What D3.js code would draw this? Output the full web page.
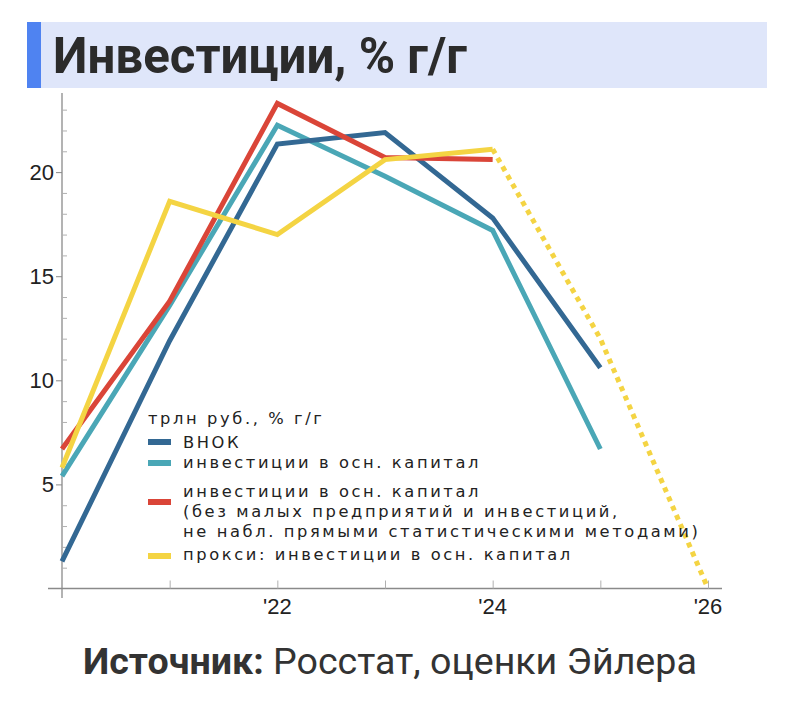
<!DOCTYPE html>
<html>
<head>
<meta charset="utf-8">
<script src="https://cdn.jsdelivr.net/npm/d3@7"></script>
<style>
  body { margin: 0; background: #fff; }
</style>
</head>
<body>
<div id="chart"></div>
<script>
// data
const years = [2020, 2021, 2022, 2023, 2024, 2025];
const vnok = [1.3, 11.9, 21.35, 21.9, 17.8, 10.6];
const invFixed = [5.4, 13.6, 22.25, 19.8, 17.2, 6.7];
const invExcl = [6.7, 13.8, 23.3, 20.7, 20.6];
const proxy = [5.8, 18.6, 17.0, 20.6, 21.1];
const proxyForecastYears = [2024, 2025, 2026];
const proxyForecast = [21.1, 12.0, 0];
const yTickMajor = [5, 10, 15, 20];
const xTickMajor = [2022, 2024, 2026];
const xTickLabels = ["'22", "'24", "'26"];

const legendTitle = "трлн руб., % г/г";
const legendItems = [
  { color: "#336893", lines: ["ВНОК"] },
  { color: "#4aa7b6", lines: ["инвестиции в осн. капитал"] },
  { color: "#da4538", lines: ["инвестиции в осн. капитал", "(без малых предприятий и инвестиций,", "не набл. прямыми статистическими методами)"] },
  { color: "#f4d443", lines: ["прокси: инвестиции в осн. капитал"] }
];

const W = 800, H = 711;
const svg = d3.select("#chart").append("svg")
  .attr("width", W)
  .attr("height", H);

// fit a text element to a target width by scaling its font size
function fitWidth(sel, target) {
  const fs = parseFloat(sel.style("font-size"));
  const w = sel.node().getComputedTextLength();
  const nfs = fs * target / w;
  sel.style("font-size", nfs + "px");
  return nfs;
}

// title band
svg.append("rect").attr("x", 27).attr("y", 22).attr("width", 740).attr("height", 66).attr("fill", "#dfe6fa");
svg.append("rect").attr("x", 27).attr("y", 22).attr("width", 14).attr("height", 66).attr("fill", "#4f83f1");
const title = svg.append("text")
  .attr("x", 53).attr("y", 73)
  .style("font-family", "Roboto, 'Liberation Sans', sans-serif")
  .style("font-weight", "bold")
  .style("font-size", "48px")
  .style("fill", "#2b2b2b")
  .text("Инвестиции, % г/г");
fitWidth(title, 414);

// scales
const x = d3.scaleLinear().domain([2020, 2026]).range([62, 708]);
const y = d3.scaleLinear().domain([0, 23.8]).range([588.5, 93]);

const axisColor = "#8a8a8a";
const tickFont = "'Liberation Sans', Arial, Helvetica, sans-serif";
const g = svg.append("g");

// axis lines
g.append("line").attr("x1", 48).attr("x2", 722).attr("y1", y(0)).attr("y2", y(0))
  .attr("stroke", axisColor).attr("stroke-width", 1.3);
g.append("line").attr("x1", x(2020)).attr("x2", x(2020)).attr("y1", y(23.8)).attr("y2", 598)
  .attr("stroke", axisColor).attr("stroke-width", 1.3);

// y axis: minor ticks inside, major ticks outside with labels
const yMinor = d3.range(1, 24).filter(v => !yTickMajor.includes(v));
const yAxisMinor = d3.axisRight(y).tickValues(yMinor).tickSize(5).tickFormat("");
g.append("g").attr("transform", `translate(${x(2020)},0)`).call(yAxisMinor)
  .call(s => s.select(".domain").remove())
  .call(s => s.selectAll(".tick line").attr("stroke", "#b0b0b0"));
const yAxisMajor = d3.axisLeft(y).tickValues(yTickMajor).tickSize(6).tickPadding(2);
g.append("g").attr("transform", `translate(${x(2020)},0)`).call(yAxisMajor)
  .call(s => s.select(".domain").remove())
  .call(s => s.selectAll(".tick line").attr("stroke", axisColor))
  .call(s => s.selectAll(".tick text")
    .attr("font-family", null).attr("font-size", null)
    .style("font-family", tickFont)
    .style("font-size", "22px").style("fill", "#222"));

// x axis ticks point up into the plot
const xAxis = d3.axisTop(x).tickValues(d3.range(2021, 2027)).tickSize(8).tickFormat("");
g.append("g").attr("transform", `translate(0,${y(0)})`).call(xAxis)
  .call(s => s.select(".domain").remove())
  .call(s => s.selectAll(".tick line").attr("stroke", "#b0b0b0"));
g.selectAll(".xlab").data(xTickMajor).enter().append("text")
  .attr("class", "xlab")
  .attr("x", d => x(d)).attr("y", 614)
  .attr("text-anchor", "middle")
  .style("font-family", tickFont)
  .style("font-size", "22px").style("fill", "#222")
  .text((d, i) => xTickLabels[i]);

// lines
const line = d3.line().x(d => x(d[0])).y(d => y(d[1]));
const series = [
  { vals: invFixed, yrs: years, color: "#4aa7b6" },
  { vals: vnok, yrs: years, color: "#336893" },
  { vals: invExcl, yrs: years, color: "#da4538" },
  { vals: proxy, yrs: years, color: "#f4d443" }
];
series.forEach(s => {
  g.append("path")
    .datum(s.vals.map((v, i) => [s.yrs[i], v]))
    .attr("d", line)
    .attr("fill", "none")
    .attr("stroke", s.color)
    .attr("stroke-width", 5);
});
g.append("path")
  .datum(proxyForecast.map((v, i) => [proxyForecastYears[i], v]))
  .attr("d", line)
  .attr("fill", "none")
  .attr("stroke", "#f4d443")
  .attr("stroke-width", 5)
  .attr("stroke-dasharray", "5,5");

// legend: font sized to keep rows apart, widened a little with letter spacing
const leg = svg.append("g");
const legFont = "'DejaVu Sans', 'Noto Sans', sans-serif";
const legFs = 16.3;
const probeText = "инвестиции в осн. капитал";
const probe = leg.append("text").style("font-family", legFont).style("font-size", legFs + "px")
  .text(probeText);
const legLs = Math.max(0, (298 - probe.node().getComputedTextLength()) / probeText.length);
probe.remove();

function legText(xp, yp, t) {
  leg.append("text")
    .attr("x", xp).attr("y", yp)
    .style("font-family", legFont).style("font-size", legFs + "px")
    .style("letter-spacing", legLs + "px").style("fill", "#222")
    .text(t);
}
legText(148, 424, legendTitle);

const rowBase = [448, 468, 497, 560];
const swatchY = [442, 463, 502, 556];
legendItems.forEach((item, i) => {
  leg.append("rect")
    .attr("x", 148).attr("y", swatchY[i] - 3).attr("width", 23).attr("height", 6)
    .attr("fill", item.color);
  item.lines.forEach((t, j) => legText(183, rowBase[i] + j * 20, t));
});

// source
const src = svg.append("text")
  .attr("x", 83).attr("y", 674)
  .style("font-family", "Roboto, 'Liberation Sans', sans-serif")
  .style("font-size", "34px")
  .style("fill", "#333");
src.append("tspan").style("font-weight", "bold").text("Источник:");
src.append("tspan").text(" Росстат, оценки Эйлера");
fitWidth(src, 614);
</script>
</body>
</html>
